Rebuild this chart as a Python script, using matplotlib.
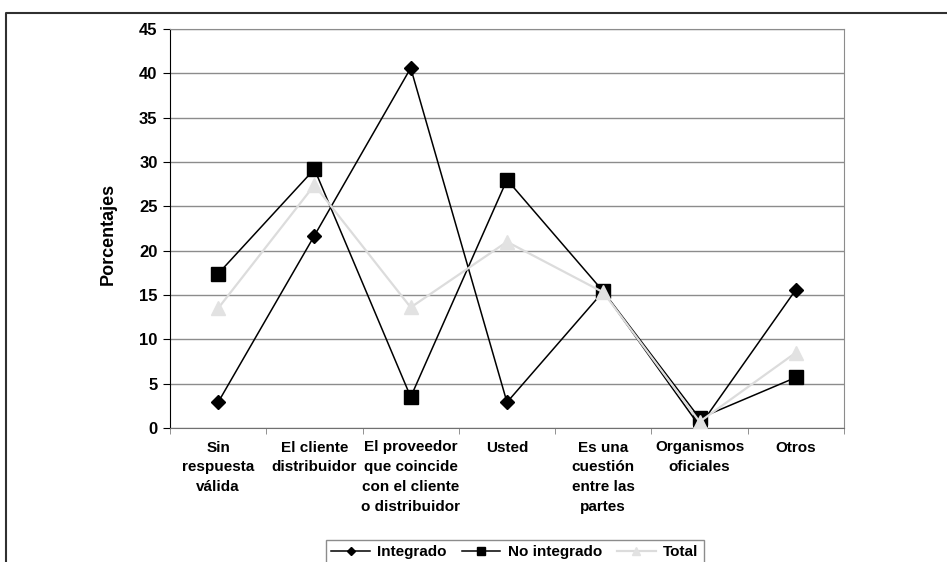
import numpy as np
import matplotlib
matplotlib.use("Agg")
import matplotlib.pyplot as plt
from matplotlib.lines import Line2D

plt.rcParams['font.family'] = ['Liberation Sans', 'DejaVu Sans']
plt.rcParams['font.weight'] = 'bold'

categorias = ["Sin\nrespuesta\nválida", "El cliente\ndistribuidor",
              "El proveedor\nque coincide\ncon el cliente\no distribuidor",
              "Usted", "Es una\ncuestión\nentre las\npartes",
              "Organismos\noficiales", "Otros"]
integrado = [2.9, 21.7, 40.6, 2.9, 15.4, 0.2, 15.6]
no_integrado = [17.4, 29.2, 3.5, 28.0, 15.4, 1.1, 5.7]
total = [13.5, 27.4, 13.6, 21.0, 15.3, 0.7, 8.5]
yticks = list(range(0, 50, 5))

fig = plt.figure(figsize=(9.47, 5.62), dpi=100)
W, H = 947, 562
ax = fig.add_axes([170 / W, 1 - 428 / H, 674 / W, 399 / H])

x = np.arange(len(categorias))
ax.plot(x, integrado, color='black', lw=1.1, marker='D', ms=7,
        mfc='black', mec='black', label='Integrado', zorder=3)
ax.plot(x, no_integrado, color='black', lw=1.1, marker='s', ms=9.5,
        mfc='black', mec='black', label='No integrado', zorder=3)
ax.plot(x, total, color='#dcdcdc', lw=1.6, marker='^', ms=10,
        mfc='#e2e2e2', mec='#e2e2e2', label='Total', zorder=4)

ax.set_xlim(-0.5, len(categorias) - 0.5)
ax.set_ylim(0, 45)
ax.set_yticks(yticks)
ax.set_yticklabels([str(v) for v in yticks], fontsize=12, fontweight='bold')
ax.set_xticks(x)
ax.set_xticklabels(categorias, fontsize=11, fontweight='bold',
                   linespacing=1.52, va='top')
ax.set_xticks(np.arange(-0.5, len(categorias), 1), minor=True)
ax.tick_params(axis='x', which='major', length=0, pad=9)
ax.tick_params(axis='x', which='minor', length=4, color='#808080', direction='out')
ax.tick_params(axis='y', length=5, color='black', direction='out', pad=4)

ax.yaxis.grid(True, color='#8c8c8c', lw=1.0)
ax.set_axisbelow(True)
for side in ['top', 'right']:
    ax.spines[side].set_color('#8c8c8c')
ax.spines['left'].set_color('black')
ax.spines['bottom'].set_color('#707070')

fig.text(108 / W, 1 - 234 / H, 'Porcentajes', rotation=90, ha='center',
         va='center', fontsize=13, fontweight='bold')

# marco exterior
fig.add_artist(Line2D([6 / W, 6 / W, 1.0], [0.0, 1 - 13 / H, 1 - 13 / H],
                      transform=fig.transFigure, color='#303030', lw=1.5))

leg = fig.legend(loc='upper center', bbox_to_anchor=(515 / W, 1 - 532 / H),
                 ncol=3, fontsize=11, frameon=True, fancybox=False,
                 handlelength=2.5, columnspacing=1.0, handletextpad=0.5,
                 borderpad=0.35, markerscale=0.6)
leg.get_frame().set_edgecolor('#707070')
leg.get_frame().set_linewidth(1.0)
for t in leg.get_texts():
    t.set_fontweight('bold')

fig.savefig('out.png', dpi=100)
